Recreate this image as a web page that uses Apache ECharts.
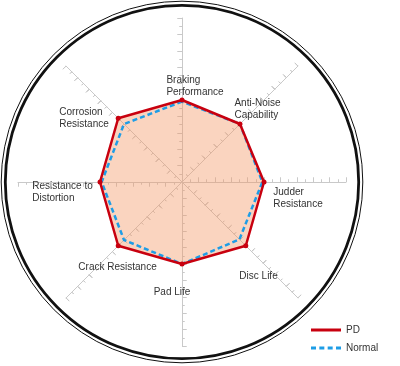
<!DOCTYPE html>
<html>
<head>
<meta charset="utf-8">
<script src="https://cdn.jsdelivr.net/npm/echarts@6/dist/echarts.min.js"></script>
<style>
html,body{margin:0;padding:0;background:#fff;}
#chart{width:400px;height:366px;}
</style>
</head>
<body>
<div id="chart"></div>
<script>
// Indicators in ECharts radar order (counter-clockwise from top)
var categories = ['Braking\nPerformance', 'Corrosion\nResistance', 'Resistance to\nDistortion', 'Crack Resistance', 'Pad Life', 'Disc Life', 'Judder\nResistance', 'Anti-Noise\nCapability'];
var scaleMax = 10;
var pdValues = [5, 5.5, 5, 5.5, 5, 5.5, 5, 5];
var normalValues = [4.9, 5.0, 4.9, 5.0, 5.0, 4.95, 4.9, 5.0];
var seriesNames = ['PD', 'Normal'];

// label layout (styles only): name gap and padding per indicator
var nameGaps = [-68, -49.5, -44.5, -58.3, -54, -43.4, -48, -59];
var namePads = [[0,0,0,26],[34,34,0,0],[20,0,0,0],[20.5,0,0,20.5],[0,20,0,0],[17.5,17.5,0,0],[32,0,0,0],[2.5,0,0,2.5]];

var FONT = '"Liberation Sans", Arial, Helvetica, sans-serif';
var AXIS = '#c9c9c9';
var RED = '#c8000f';
var BLUE = '#1e9de6';
var CX = 182, CY = 182, R = 164;

function indicators(withNames) {
  return categories.map(function (c, i) {
    var o = { name: c, min: 0, max: scaleMax };
    if (withNames) {
      o.nameGap = nameGaps[i];
      o.nameTextStyle = { align: 'center', verticalAlign: 'middle', padding: namePads[i] };
    }
    return o;
  });
}

function tickRadar(split, len, inside, showLine, showNames) {
  return {
    center: [CX, CY], radius: R, startAngle: 90, shape: 'polygon',
    splitNumber: split,
    indicator: indicators(showNames),
    axisLine: { show: showLine, lineStyle: { color: AXIS, width: 1 } },
    axisTick: { show: true, length: len, inside: inside, lineStyle: { color: AXIS, width: 1 } },
    axisLabel: { show: false },
    splitLine: { show: false },
    splitArea: { show: false },
    axisName: showNames ? {
      show: true,
      formatter: function (n) { return n.split('\n').map(function (l) { return '{l|' + l + '}'; }).join('\n'); },
      color: '#333', fontSize: 10, fontFamily: FONT, lineHeight: 12,
      rich: { l: { align: 'left', color: '#333', fontSize: 10, fontFamily: FONT, lineHeight: 12 } }
    } : { show: false }
  };
}

function circleRadar(r, w) {
  return {
    center: [CX, CY], radius: r, startAngle: 90, shape: 'circle', splitNumber: 1,
    indicator: indicators(false),
    axisLine: { show: false }, axisTick: { show: false }, axisLabel: { show: false },
    splitArea: { show: false }, axisName: { show: false },
    splitLine: { show: true, lineStyle: { color: '#111', width: w } }
  };
}

var dashIcon = 'path://M0,0h5v3h-5z M8.33,0h5v3h-5z M16.67,0h5v3h-5z M25,0h5v3h-5z';

var option = {
  animation: false,
  textStyle: { fontFamily: FONT },
  legend: {
    orient: 'vertical', left: 311, top: 325, padding: 0, itemGap: 8,
    itemWidth: 30, itemHeight: 3,
    textStyle: { fontSize: 10, color: '#333', fontFamily: FONT },
    itemStyle: { borderWidth: 0 },
    data: [
      { name: seriesNames[0], icon: 'rect', itemStyle: { color: RED, borderWidth: 0 } },
      { name: seriesNames[1], icon: dashIcon, itemStyle: { color: BLUE, borderWidth: 0 } }
    ]
  },
  radar: [
    tickRadar(20, 2.5, false, true, true),
    tickRadar(20, 2.5, true, false, false),
    tickRadar(10, 4.5, false, false, false),
    tickRadar(10, 4.5, true, false, false),
    circleRadar(176.7, 2.8),
    circleRadar(180.8, 1)
  ],
  series: [{
    type: 'radar', radarIndex: 0,
    data: [
      { name: seriesNames[0], value: pdValues, symbol: 'none',
        lineStyle: { width: 0, opacity: 0, color: RED }, itemStyle: { color: RED },
        areaStyle: { color: 'rgba(243,153,103,0.42)', opacity: 1 } },
      { name: seriesNames[1], value: normalValues, symbol: 'none',
        lineStyle: { color: BLUE, width: 2.5, type: [5, 3] }, itemStyle: { color: BLUE } },
      { name: seriesNames[0], value: pdValues, symbol: 'circle', symbolSize: 5,
        lineStyle: { color: RED, width: 2.5 }, itemStyle: { color: RED } }
    ]
  }]
};

var chart = echarts.init(document.getElementById('chart'), null, { renderer: 'canvas' });
chart.setOption(option);
</script>
</body>
</html>
